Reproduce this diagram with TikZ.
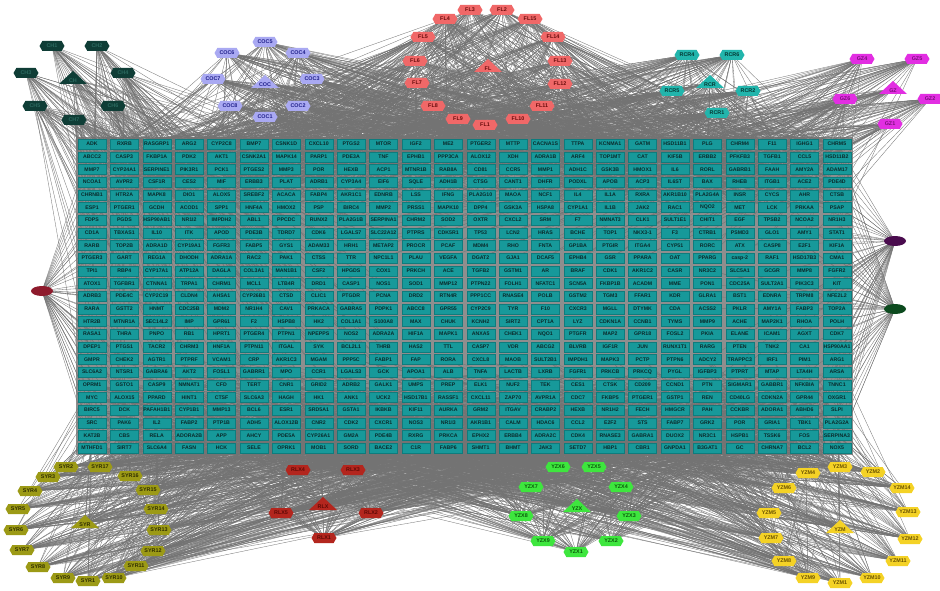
\documentclass[tikz,border=0pt]{standalone}
\usepackage{fontspec}
\setmainfont{Liberation Sans}
\usetikzlibrary{shapes.symbols,shapes.geometric,calc}
\pgfdeclarelayer{edgelayer}
\pgfsetlayers{edgelayer,main}

\definecolor{cellfill}{HTML}{17999A}
\definecolor{celledge}{HTML}{0E7C7D}
\definecolor{celltext}{HTML}{0A2A2B}
\definecolor{gridgray}{HTML}{8E8E8E}
\definecolor{edgegray}{HTML}{737373}
\definecolor{chfill}{HTML}{0F3D36}\definecolor{chtext}{HTML}{2C6A60}
\definecolor{cocfill}{HTML}{A9A9F2}\definecolor{coctext}{HTML}{20208A}
\definecolor{flfill}{HTML}{F06868}\definecolor{fltext}{HTML}{6A0C0C}
\definecolor{rcrfill}{HTML}{22B5AC}\definecolor{rcrtext}{HTML}{053833}
\definecolor{gzfill}{HTML}{E22EE2}\definecolor{gztext}{HTML}{7A0E7A}
\definecolor{syrfill}{HTML}{9C9A16}\definecolor{syrtext}{HTML}{2E2C00}
\definecolor{rlxfill}{HTML}{B3261E}\definecolor{rlxtext}{HTML}{5E0A06}
\definecolor{yzxfill}{HTML}{3EE63E}\definecolor{yzxtext}{HTML}{0B5A0B}
\definecolor{yzmfill}{HTML}{F4D226}\definecolor{yzmtext}{HTML}{6A5200}
\definecolor{lonered}{HTML}{8E1A2C}
\definecolor{lonepurple}{HTML}{4A0C4E}
\definecolor{lonegreen}{HTML}{0C4A1E}

\newcommand\nodefont{\fontsize{5.4}{6}\selectfont\bfseries}
\newsavebox\lblbox
\newcommand\fitlbl[1]{\sbox\lblbox{#1}\ifdim\wd\lblbox>27pt\resizebox{27pt}{\height}{\usebox\lblbox}\else\usebox\lblbox\fi}

% one row of gene boxes
\newcommand\gridrow[2]{%
  \foreach \gn [count=\ci] in {#2} {%
    \node[cell] (c-#1-\ci) at ({92+(\ci-1)*32.39},{144+(#1-1)*12.67}) {\fitlbl{\gn}};
  }}

% cluster hub drawn as a triangle
\newcommand\trinode[5]{%
  \coordinate (#1) at (#2);
  \fill[#3] ($(#1)+(-14,5)$) -- ($(#1)+(14,5)$) -- ($(#1)+(0,-8)$) -- cycle;
  \node[font=\nodefont, text=#4, inner sep=0pt] at ($(#1)+(0,1.5)$) {#5};
}

% random links from a list of nodes into a block of the gene grid
\newcommand\links[6]{% nodes, count, rowmin, rowmax, colmin, colmax
  \foreach \n in {#1} {
    \foreach \j in {1,...,#2} {
      \pgfmathtruncatemacro\rr{random(#3,#4)}
      \pgfmathtruncatemacro\cc{random(#5,#6)}
      \draw[edge] (\n.center) -- (c-\rr-\cc.center);
    }
  }}

\tikzset{
  cell/.style={rectangle, fill=cellfill, draw=celledge, line width=0.3pt,
    minimum width=28pt, minimum height=10pt, inner sep=0pt, text=celltext,
    font=\fontsize{5.2}{6}\selectfont\bfseries},
  hex/.style={signal, signal to=east and west, signal pointer angle=120,
    minimum width=25pt, minimum height=10pt, inner sep=0.5pt, font=\nodefont},
  ch/.style={hex, fill=chfill, text=chtext},
  coc/.style={hex, fill=cocfill, text=coctext},
  fl/.style={hex, fill=flfill, text=fltext},
  rcr/.style={hex, fill=rcrfill, text=rcrtext},
  gz/.style={hex, fill=gzfill, text=gztext},
  syr/.style={hex, fill=syrfill, text=syrtext},
  rlx/.style={hex, fill=rlxfill, text=rlxtext},
  yzx/.style={hex, fill=yzxfill, text=yzxtext},
  yzm/.style={hex, fill=yzmfill, text=yzmtext},
  lone/.style={ellipse, minimum width=22pt, minimum height=10pt, inner sep=0pt, font=\nodefont},
  edge/.style={draw=edgegray, line width=0.32pt},
}

\begin{document}
\begin{tikzpicture}[x=1pt,y=-1pt]
\useasboundingbox (0,0) rectangle (940,591);

% ---------- gene grid ----------
\gridrow{1}{ADK,RXRB,RASGRP1,ARG2,CYP2C8,BMP7,CSNK1D,CXCL10,PTGS2,MTOR,IGF2,ME2,PTGER2,MTTP,CACNA1S,TTPA,KCNMA1,GATM,HSD11B1,PLG,CHRM4,F11,IGHG1,CHRM5}
\gridrow{2}{ABCC2,CASP3,FKBP1A,PDK2,AKT1,CSNK2A1,MAPK14,PARP1,PDE3A,TNF,EPHB1,PPP3CA,ALOX12,XDH,ADRA1B,ARF4,TOP1MT,CAT,KIF5B,ERBB2,PFKFB3,TGFB1,CCL5,HSD11B2}
\gridrow{3}{MMP7,CYP24A1,SERPINE1,PIK3R1,PCK1,PTGES2,MMP3,POR,HEXB,ACP1,MTNR1B,RAB8A,CD81,CCR5,MMP1,ADH1C,GSK3B,HMOX1,IL6,RORL,GABRB1,FAAH,AMY2A,ADAM17}
\gridrow{4}{NCOA1,AVPR2,CSF1R,CES2,MIF,ERBB3,PLAT,ADRB1,CYP3A4,EIF6,SQLE,ADH1B,CTSG,CANT1,DHFR,PODXL,APOB,ACP3,IL6ST,BAX,RHEB,ITGB1,ACE2,PDE4D}
\gridrow{5}{CHRNB1,HTR2A,MAPK8,DIO1,ALOX5,SREBF2,ACACA,FABP4,AKR1C1,EDNRB,LSS,IFNG,PLA2G10,MAOA,NCF1,IL4,IL1A,RXRA,AKR1B10,PLA2G4A,INSR,CYCS,AHR,CTSB}
\gridrow{6}{ESP1,PTGER1,GCDH,ACOD1,SPP1,HNF4A,HMOX2,PSP,BIRC4,MMP2,PRSS1,MAPK10,DPP4,GSK3A,HSPA8,CYP1A1,IL1B,JAK2,RAC1,NQO2,MET,LCK,PRKAA,PSAP}
\gridrow{7}{FDPS,PGDS,HSP90AB1,NR1I2,IMPDH2,ABL1,PPCDC,RUNX2,PLA2G1B,SERPINA1,CHRM2,SOD2,OXTR,CXCL2,SRM,F7,NMNAT3,CLK1,SULT1E1,CHIT1,EGF,TPSB2,NCOA2,NR1H3}
\gridrow{8}{CD1A,TBXAS1,IL10,ITK,APOD,PDE3B,TDRD7,CDK6,LGALS7,SLC22A12,PTPRS,CDK5R1,TP53,LCN2,HRAS,BCHE,TOP1,NKX3-1,F3,CTRB1,PSMD3,GLO1,AMY1,STAT1}
\gridrow{9}{RARB,TOP2B,ADRA1D,CYP19A1,FGFR3,FABP5,GYS1,ADAM33,HRH1,METAP2,PROCR,PCAF,MDM4,RHO,FNTA,GP1BA,PTGIR,ITGA4,CYP51,RORC,ATX,CASP8,E2F1,KIF1A}
\gridrow{10}{PTGER3,GART,REG1A,DHODH,ADRA1A,RAC2,PAK1,CTSS,TTR,NPC1L1,PLAU,VEGFA,DGAT2,GJA1,DCAF5,EPHB4,GSR,PPARA,OAT,PPARG,casp-2,RAF1,HSD17B3,CMA1}
\gridrow{11}{TPI1,RBP4,CYP17A1,ATP12A,DAGLA,COL3A1,MAN1B1,CSF2,HPGDS,COX1,PRKCH,ACE,TGFB2,GSTM1,AR,BRAF,CDK1,AKR1C2,CASR,NR3C2,SLC5A1,GCGR,MMP8,FGFR2}
\gridrow{12}{ATOX1,TGFBR1,CTNNA1,TRPA1,CHRM1,MCL1,LTB4R,DRD1,CASP1,NOS1,SOD1,MMP12,PTPN22,FOLH1,NFATC1,SCN5A,FKBP1B,ACADM,MME,PON1,CDC25A,SULT2A1,PIK3C3,KIT}
\gridrow{13}{ADRB3,PDE4C,CYP2C19,CLDN4,AHSA1,CYP26B1,CTSD,CLIC1,PTGDR,PCNA,DRD2,RTN4R,PPP1CC,RNASE4,POLB,GSTM2,TGM3,FFAR1,KDR,GLRA1,BST1,EDNRA,TRPM8,NFE2L2}
\gridrow{14}{RARA,GSTT2,HNMT,CDC25B,MDM2,NR1H4,CAV1,PRKACA,GABRA5,PDPK1,ABCC8,GPR55,CYP2C9,TYR,F10,CXCR3,MGLL,DTYMK,CDA,ACSS2,PKLR,AMY1A,FABP3,TOP2A}
\gridrow{15}{HTR2B,MTNR1A,SEC14L2,IMP,GPR61,F2,HSPB8,HK2,COL1A1,S100A8,MAX,CHUK,KCNH2,SIRT2,CPT1A,LYZ,CDKN1A,CCNB1,TYMS,MMP9,ACHE,MAP2K1,RHOA,POLH}
\gridrow{16}{RASA1,THRA,PNPO,RB1,HPRT1,PTGER4,PTPN1,NPEPPS,NOS2,ADRA2A,HIF1A,MAPK1,ANXA5,CHEK1,NQO1,PTGFR,MAP2,GPR18,FOSL2,PKIA,ELANE,ICAM1,AGXT,CDK7}
\gridrow{17}{DPEP1,PTGS1,TACR2,CHRM3,HNF1A,PTPN11,ITGAL,SYK,BCL2L1,THRB,HAS2,TTL,CASP7,VDR,ABCG2,BLVRB,IGF1R,JUN,RUNX1T1,RARG,PTEN,TNK2,CA1,HSP90AA1}
\gridrow{18}{GMPR,CHEK2,AGTR1,PTPRF,VCAM1,CRP,AKR1C3,MGAM,PPP5C,FABP1,FAP,RORA,CXCL8,MAOB,SULT2B1,IMPDH1,MAPK3,PCTP,PTPN6,ADCY2,TRAPPC3,IRF1,PIM1,ARG1}
\gridrow{19}{SLC6A2,NTSR1,GABRA6,AKT2,FOSL1,GABRR1,MPO,CCR1,LGALS3,GCK,APOA1,ALB,TNFA,LACTB,LXRB,FGFR1,PRKCB,PRKCQ,PYGL,IGFBP3,PTPRT,MTAP,LTA4H,ARSA}
\gridrow{20}{OPRM1,GSTO1,CASP9,NMNAT1,CFD,TERT,CNR1,GRID2,ADRB2,GALK1,UMPS,PREP,ELK1,NUF2,TEK,CES1,CTSK,CD209,CCND1,PTN,SIGMAR1,GABBR1,NFKBIA,TNNC1}
\gridrow{21}{MYC,ALOX15,PPARD,HINT1,CTSF,SLC6A3,HAGH,HK1,ANK1,UCK2,HSD17B1,RASSF1,CXCL11,ZAP70,AVPR1A,CDC7,FKBP5,PTGER1,GSTP1,REN,CD40LG,CDKN2A,GPR44,OXGR1}
\gridrow{22}{BIRC5,DCK,PAFAH1B1,CYP1B1,MMP13,BCL6,ESR1,SRD5A1,GSTA1,IKBKB,KIF11,AURKA,GRM2,ITGAV,CRABP2,HEXB,NR1H2,FECH,HMGCR,PAH,CCKBR,ADORA1,ABHD6,SLPI}
\gridrow{23}{SRC,PAK6,IL2,FABP2,PTP1B,ADH5,ALOX12B,CNR2,CDK2,CXCR1,NOS3,NR1I3,AKR1B1,CALM,HDAC6,CCL2,E2F2,STS,FABP7,GRK2,POR,GRIA1,TBK1,PLA2G2A}
\gridrow{24}{KAT2B,CBS,RELA,ADORA2B,APP,AHCY,PDE5A,CYP26A1,GM2A,PDE4B,RXRG,PRKCA,EPHX2,ERBB4,ADRA2C,CDK4,RNASE3,GABRA1,DUOX2,NR3C1,HSPB1,TSSK6,FOS,SERPINA3}
\gridrow{25}{MTHFD1,SIRT7,SLC6A4,FASN,HCK,SELE,OPRK1,MOB1,SORD,BACE2,C1R,FABP6,SHMT1,BHMT,JAK3,SETD7,HBP1,CBR1,GNPDA1,B3GAT1,GC,CHRNA7,BCL2,NOX5}

% ---------- top clusters ----------
\node[ch] (CH1) at (52,46) {CH1};
\node[ch] (CH2) at (97,46) {CH2};
\node[ch] (CH3) at (26,73) {CH3};
\node[ch] (CH4) at (123,73) {CH4};
\node[ch] (CH5) at (35,106) {CH5};
\node[ch] (CH6) at (113,106) {CH6};
\node[ch] (CH7) at (74,120) {CH7};
\trinode{CH}{73,79}{chfill}{chtext}{CH}

\node[coc] (COC5) at (265,42) {COC5};
\node[coc] (COC6) at (227,53) {COC6};
\node[coc] (COC4) at (298,53) {COC4};
\node[coc] (COC7) at (213,79) {COC7};
\node[coc] (COC3) at (312,79) {COC3};
\node[coc] (COC8) at (230,106) {COC8};
\node[coc] (COC2) at (298,106) {COC2};
\node[coc] (COC1) at (265,117) {COC1};
\trinode{COC}{265,83}{cocfill}{coctext}{COC}

\node[fl] (FL3) at (470,10) {FL3};
\node[fl] (FL2) at (502,10) {FL2};
\node[fl] (FL4) at (445,19) {FL4};
\node[fl] (FL15) at (530,19) {FL15};
\node[fl] (FL5) at (423,37) {FL5};
\node[fl] (FL14) at (553,37) {FL14};
\node[fl] (FL6) at (415,61) {FL6};
\node[fl] (FL13) at (560,61) {FL13};
\node[fl] (FL7) at (417,83) {FL7};
\node[fl] (FL12) at (560,84) {FL12};
\node[fl] (FL8) at (433,106) {FL8};
\node[fl] (FL11) at (542,106) {FL11};
\node[fl] (FL9) at (458,119) {FL9};
\node[fl] (FL1) at (485,125) {FL1};
\node[fl] (FL10) at (518,119) {FL10};
\trinode{FL}{488,67}{flfill}{fltext}{FL}

\node[rcr] (RCR4) at (687,55) {RCR4};
\node[rcr] (RCR6) at (732,55) {RCR6};
\node[rcr] (RCR5) at (672,91) {RCR5};
\node[rcr] (RCR2) at (748,91) {RCR2};
\node[rcr] (RCR1) at (717,113) {RCR1};
\trinode{RCR}{710,83}{rcrfill}{rcrtext}{RCR}

\node[gz] (GZ4) at (862,59) {GZ4};
\node[gz] (GZ5) at (917,59) {GZ5};
\node[gz] (GZ6) at (845,99) {GZ6};
\node[gz] (GZ2) at (930,99) {GZ2};
\node[gz] (GZ1) at (890,124) {GZ1};
\trinode{GZ}{893,89}{gzfill}{gztext}{GZ}

% ---------- side nodes ----------
\node[lone, fill=lonered] (L1) at (42,291) {};
\node[lone, fill=lonepurple] (R1) at (895,241) {};
\node[lone, fill=lonegreen] (R2) at (895,309) {};

% ---------- bottom clusters ----------
\node[syr] (SYR2) at (66,467) {SYR2};
\node[syr] (SYR17) at (100,467) {SYR17};
\node[syr] (SYR3) at (48,477) {SYR3};
\node[syr] (SYR16) at (130,476) {SYR16};
\node[syr] (SYR4) at (30,491) {SYR4};
\node[syr] (SYR15) at (148,490) {SYR15};
\node[syr] (SYR5) at (18,509) {SYR5};
\node[syr] (SYR14) at (156,509) {SYR14};
\node[syr] (SYR6) at (16,530) {SYR6};
\node[syr] (SYR13) at (159,530) {SYR13};
\node[syr] (SYR7) at (22,550) {SYR7};
\node[syr] (SYR12) at (153,551) {SYR12};
\node[syr] (SYR8) at (38,567) {SYR8};
\node[syr] (SYR11) at (136,566) {SYR11};
\node[syr] (SYR9) at (63,578) {SYR9};
\node[syr] (SYR1) at (88,581) {SYR1};
\node[syr] (SYR10) at (114,578) {SYR10};
\trinode{SYR}{85,523}{syrfill}{syrtext}{SYR}

\node[rlx] (RLX4) at (298,470) {RLX4};
\node[rlx] (RLX3) at (353,470) {RLX3};
\node[rlx] (RLX5) at (281,513) {RLX5};
\node[rlx] (RLX2) at (371,513) {RLX2};
\node[rlx] (RLX1) at (324,538) {RLX1};
\trinode{RLX}{323,505}{rlxfill}{rlxtext}{RLX}

\node[yzx] (YZX6) at (558,467) {YZX6};
\node[yzx] (YZX5) at (594,467) {YZX5};
\node[yzx] (YZX7) at (531,487) {YZX7};
\node[yzx] (YZX4) at (621,487) {YZX4};
\node[yzx] (YZX8) at (521,516) {YZX8};
\node[yzx] (YZX3) at (629,516) {YZX3};
\node[yzx] (YZX9) at (543,541) {YZX9};
\node[yzx] (YZX2) at (611,541) {YZX2};
\node[yzx] (YZX1) at (576,552) {YZX1};
\trinode{YZX}{577,507}{yzxfill}{yzxtext}{YZX}

\node[yzm] (YZM3) at (840,467) {YZM3};
\node[yzm] (YZM2) at (873,472) {YZM2};
\node[yzm] (YZM4) at (808,473) {YZM4};
\node[yzm] (YZM14) at (902,488) {YZM14};
\node[yzm] (YZM6) at (784,488) {YZM6};
\node[yzm] (YZM13) at (908,512) {YZM13};
\node[yzm] (YZM5) at (769,513) {YZM5};
\node[yzm] (YZM12) at (910,539) {YZM12};
\node[yzm] (YZM7) at (771,538) {YZM7};
\node[yzm] (YZM11) at (898,561) {YZM11};
\node[yzm] (YZM8) at (784,561) {YZM8};
\node[yzm] (YZM9) at (808,578) {YZM9};
\node[yzm] (YZM1) at (840,583) {YZM1};
\node[yzm] (YZM10) at (872,578) {YZM10};
\trinode{YZM}{840,528}{yzmfill}{yzmtext}{YZM}

% ---------- interaction edges ----------
\begin{pgfonlayer}{edgelayer}
\fill[white] (0,0) rectangle (940,591);
\fill[gridgray] (76,137) rectangle (853,455);
\pgfmathsetseed{2718}
\links{CH,CH1,CH2,CH3,CH4,CH5,CH6,CH7}{30}{1}{25}{1}{10}
\links{COC,COC1,COC2,COC3,COC4,COC5,COC6,COC7,COC8}{45}{1}{6}{1}{24}
\links{FL,FL1,FL2,FL3,FL4,FL5,FL6,FL7,FL8,FL9,FL10,FL11,FL12,FL13,FL14,FL15}{50}{1}{6}{1}{24}
\links{RCR,RCR1,RCR2,RCR4,RCR5,RCR6}{50}{1}{6}{1}{24}
\links{GZ,GZ1,GZ2,GZ4,GZ5,GZ6}{35}{1}{10}{8}{24}
\links{SYR,SYR1,SYR2,SYR3,SYR4,SYR5,SYR6,SYR7,SYR8,SYR9,SYR10,SYR11,SYR12,SYR13,SYR14,SYR15,SYR16,SYR17}{34}{19}{25}{1}{24}
\links{RLX,RLX1,RLX2,RLX3,RLX4,RLX5}{50}{20}{25}{1}{24}
\links{YZX,YZX1,YZX2,YZX3,YZX4,YZX5,YZX6,YZX7,YZX8,YZX9}{45}{20}{25}{1}{24}
\links{YZM,YZM1,YZM2,YZM3,YZM4,YZM5,YZM6,YZM7,YZM8,YZM9,YZM10,YZM11,YZM12,YZM13,YZM14}{36}{18}{25}{1}{24}
\foreach \r in {1,...,25} {
  \draw[edge] (L1.center) -- (c-\r-1.center);
  \draw[edge] (R1.center) -- (c-\r-24.center);
  \draw[edge] (R2.center) -- (c-\r-24.center);
}
\links{L1}{25}{1}{25}{1}{4}
\links{R1,R2}{25}{1}{25}{20}{24}
\end{pgfonlayer}
\end{tikzpicture}
\end{document}
